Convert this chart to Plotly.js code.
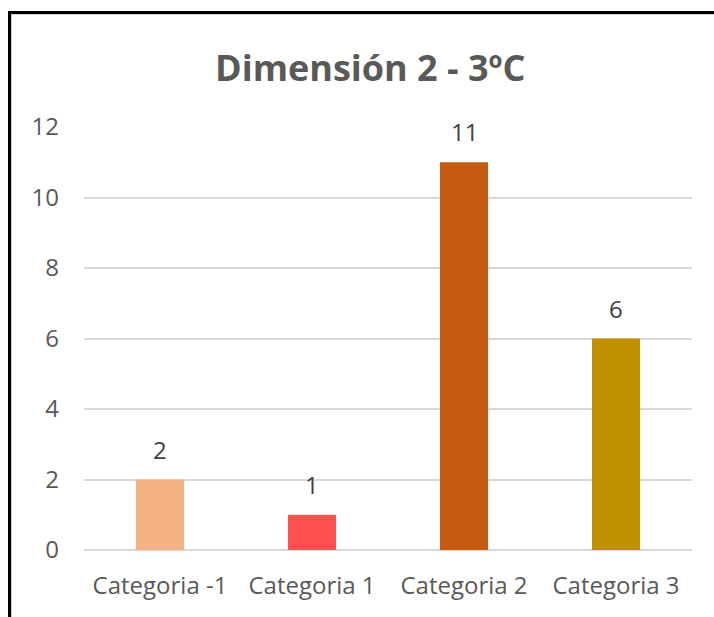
<!DOCTYPE html>
<html>
<head>
<meta charset="utf-8">
<script src="https://cdn.plot.ly/plotly-3.0.1.min.js"></script>
<style>
  html, body { margin: 0; padding: 0; background: #fff; }
  #chart { width: 714px; height: 617px; position: absolute; left: 0; top: 0; }
  #frame { position: absolute; left: 8px; top: 11px; width: 720px; height: 620px;
           border-top: 3px solid #000; border-left: 3px solid #000;
           box-shadow: inset 1px 1px 0 #cfcfcf; pointer-events: none; }
</style>
</head>
<body>
<div id="chart"></div>
<div id="frame"></div>
<script>
const categories = ["Categoria -1", "Categoria 1", "Categoria 2", "Categoria 3"];
const values = [2, 1, 11, 6];
const barColors = ["#F4B183", "#FF5050", "#C55A11", "#BF9000"];
const yTicks = [0, 2, 4, 6, 8, 10, 12];
const chartTitle = "Dimensión 2 - 3ºC";

const font = "Open Sans, Calibri, Carlito, Liberation Sans, sans-serif";

const trace = {
  type: "bar",
  x: categories,
  y: values,
  width: 0.316,
  marker: { color: barColors, line: { width: 0 } },
  hoverinfo: "none"
};

const annotations = categories.map((c, i) => ({
  x: c, y: values[i], xref: "x", yref: "y",
  text: String(values[i]), showarrow: false,
  yanchor: "bottom", yshift: 12,
  font: { family: font, size: 24, color: "#404040" }
}));

annotations.push({
  text: chartTitle, xref: "paper", yref: "paper",
  x: (370 - 84) / 608, y: 1 + (127 - 67) / 423,
  xanchor: "center", yanchor: "middle", showarrow: false,
  font: { family: font, size: 36, color: "#595959", weight: "bold" }
});

const layout = {
  width: 714, height: 617,
  margin: { l: 84, r: 22, t: 127, b: 67, pad: 0 },
  paper_bgcolor: "#fff", plot_bgcolor: "#fff",
  showlegend: false,
  bargap: 0.684,
  xaxis: {
    type: "category",
    showgrid: false, showline: false, zeroline: false,
    ticks: "", ticklabelstandoff: 19,
    tickfont: { family: font, size: 24, color: "#595959" },
    fixedrange: true
  },
  yaxis: {
    range: [0, 12],
    tickvals: yTicks, ticktext: yTicks.map(String),
    showgrid: true, gridcolor: "#d9d9d9", gridwidth: 2,
    zeroline: true, zerolinecolor: "#d9d9d9", zerolinewidth: 2,
    showline: false, ticks: "", ticklabelstandoff: 24,
    tickfont: { family: font, size: 24, color: "#595959" },
    fixedrange: true
  },
  annotations: annotations
};

Plotly.newPlot("chart", [trace], layout, { displayModeBar: false, staticPlot: true });
</script>
</body>
</html>
